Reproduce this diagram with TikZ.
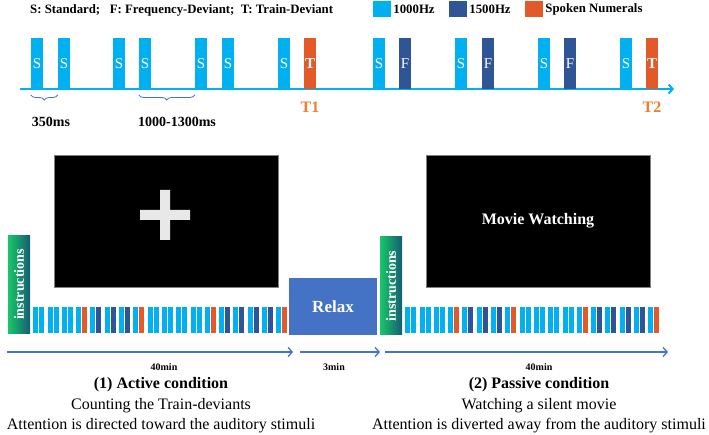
\documentclass[tikz,border=0pt]{standalone}
\usepackage{fontspec}
\setmainfont{Liberation Serif}
\usepackage{tikz}
\usetikzlibrary{arrows.meta,positioning,calc,decorations.pathreplacing}
\usepackage{xcolor}
\definecolor{SkyBlue}{RGB}{0,176,240}
\definecolor{DeepBlue}{RGB}{47,85,151}
\definecolor{Numeral}{RGB}{226,89,42}
\definecolor{TOrange}{RGB}{237,125,49}
\definecolor{Steel}{RGB}{68,114,196}
\definecolor{InsGreen}{RGB}{24,200,104}
\definecolor{InsTeal}{RGB}{22,92,116}
\definecolor{CrossGray}{RGB}{232,232,232}
\tikzset{
  tone/.style={rectangle,inner sep=0pt,minimum width=12pt,minimum height=51pt,
               anchor=south,text=white,font=\fontsize{15}{15}\selectfont},
  tone-s/.style={tone,fill=SkyBlue},
  tone-f/.style={tone,fill=DeepBlue},
  tone-t/.style={tone,fill=Numeral,font=\fontsize{15}{15}\selectfont\bfseries},
  mini/.style={rectangle,inner sep=0pt,minimum width=5pt,minimum height=26pt,anchor=south west},
  mini-s/.style={mini,fill=SkyBlue},
  mini-f/.style={mini,fill=DeepBlue},
  mini-t/.style={mini,fill=Numeral},
  legbox/.style={rectangle,inner sep=0pt,minimum width=18pt,minimum height=16pt},
  legtext/.style={inner sep=0pt,font=\fontsize{12.8}{13}\selectfont\bfseries},
  timebrace/.style={decorate,decoration={brace,mirror,amplitude=5pt},Steel,line width=0.8pt},
  tmark/.style={inner sep=0pt,text=TOrange,font=\fontsize{16}{16}\selectfont\bfseries},
  screen/.style={rectangle,fill=black,draw=gray,thin,minimum width=224pt,minimum height=132pt,
                 text=white,font=\fontsize{16}{16}\selectfont\bfseries},
  instr/.style={rectangle,rotate=90,minimum width=98pt,minimum height=22pt,inner sep=0pt,
                left color=InsGreen,right color=InsTeal,text=white,
                font=\fontsize{14}{14}\selectfont\bfseries},
  relaxbox/.style={rectangle,fill=Steel,minimum width=88pt,minimum height=57pt,
                   text=white,font=\fontsize{17}{17}\selectfont\bfseries},
  flow/.style={-{Straight Barb[length=4pt,width=9pt]},Steel,line width=1.3pt},
  dur/.style={inner sep=0pt,font=\fontsize{10}{10}\selectfont\bfseries},
  cond/.style={inner sep=0pt,font=\fontsize{16}{16}\selectfont\bfseries},
  desc/.style={inner sep=0pt,font=\fontsize{16}{16}\selectfont},
}

\begin{document}
\begin{tikzpicture}[x=1pt,y=-1pt]
  \useasboundingbox (0,0) rectangle (709,435);
  % legend
  \node[legtext,anchor=west] (key) at (30,10) {S: Standard;\ \ \ F: Frequency-Deviant;\ \ T: Train-Deviant};
  \node[legbox,fill=SkyBlue] (k1) at (382,9) {};
  \node[legtext,right=2pt of k1] (k1t) {1000Hz};
  \node[legbox,fill=DeepBlue] (k2) at (458,9) {};
  \node[legtext,right=2pt of k2] (k2t) {1500Hz};
  \node[legbox,fill=Numeral] (k3) at (534,9) {};
  \node[legtext,right=2pt of k3] (k3t) {Spoken Numerals};

  % stimulus sequence
  \coordinate (tl0) at (20,89);
  \coordinate (tl1) at (674,89);
  \draw[SkyBlue,line width=2pt,-{Straight Barb[length=4pt,width=9pt]}] (tl0) -- (tl1);
  \foreach \x/\k/\t [count=\i] in {31/s/S,58/s/S,113/s/S,139/s/S,195/s/S,222/s/S,278/s/S,304/t/T,
      373/s/S,399/f/F,455/s/S,482/f/F,538/s/S,564/f/F,620/s/S,646/t/T}
    \node[tone-\k] (b\i) at (\x+6,89) {\t};
  \draw[timebrace] ($(b1.south west)+(0,6)$) -- ($(b2.south west)+(0,6)$);
  \draw[timebrace] ($(b4.south west)+(0,6)$) -- ($(b5.south west)+(0,6)$);
  \node[tmark] (t1) at (310,107) {T1};
  \node[tmark] (t2) at (652,107) {T2};
  \node[legtext,font=\fontsize{14}{14}\selectfont\bfseries] (d1) at (51,122) {350ms};
  \node[legtext,font=\fontsize{14}{14}\selectfont\bfseries] (d2) at (177,122) {1000-1300ms};

  % screens
  \node[screen] (scr1) at (166,221) {};
  \fill[CrossGray] (160,190) rectangle (170,240) (140,210) rectangle (190,220);
  \node[screen] (scr2) at (538,221) {Movie Watching};
  \node[instr] (ins1) at (19,284.5) {instructions};
  \node[instr] (ins2) at (391,286) {instructions};
  \node[relaxbox] (relax) at (333,306.5) {Relax};

  % block sequences
  \foreach \k [count=\i from 0] in {s,s,s,t,f,f,f,t,s,s,s,s,t,f,f,f,f,t} {
    \node[mini-s] (la\i) at (33+\i*14.3,333) {};
    \node[mini-\k] (lb\i) at (39+\i*14.3,333) {};
    \node[mini-s] (ra\i) at (405+\i*14.3,333) {};
    \node[mini-\k] (rb\i) at (411+\i*14.3,333) {};
  }

  % time line
  \coordinate (a1) at (7,352);   \coordinate (a2) at (293,352);
  \coordinate (a3) at (300,352); \coordinate (a4) at (380,352);
  \coordinate (a5) at (385,352); \coordinate (a6) at (668,352);
  \draw[flow] (a1) -- (a2);
  \draw[flow] (a3) -- (a4);
  \draw[flow] (a5) -- (a6);
  \node[dur] (m1) at (164,367) {40min};
  \node[dur] (m2) at (334,367) {3min};
  \node[dur] (m3) at (539,367) {40min};

  \node[cond] (c1) at (161,385) {(1) Active condition};
  \node[desc] (c1a) at (161,406) {Counting the Train-deviants};
  \node[desc] (c1b) at (161,426) {Attention is directed toward the auditory stimuli};
  \node[cond] (c2) at (539,385) {(2) Passive condition};
  \node[desc] (c2a) at (539,406) {Watching a silent movie};
  \node[desc] (c2b) at (539,426) {Attention is diverted away from the auditory stimuli};
\end{tikzpicture}
\end{document}
